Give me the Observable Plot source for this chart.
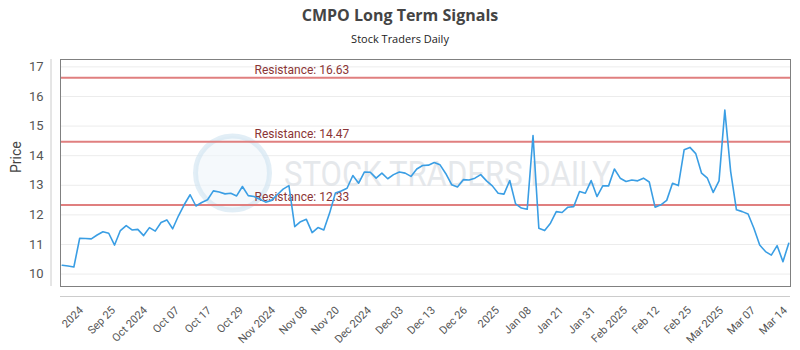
<!DOCTYPE html>
<html>
<head>
<meta charset="utf-8">
<script src="https://cdn.jsdelivr.net/npm/d3@7"></script>
<script src="https://cdn.jsdelivr.net/npm/@observablehq/plot@0.6"></script>
<style>
  html, body { margin: 0; padding: 0; background: #fff; }
  #wrap { width: 800px; height: 350px; overflow: hidden; }
  #title { height: 28px; line-height: 30px; text-align: center; font-family: "Open Sans", sans-serif; font-weight: 700; font-size: 16px; color: #444; }
  #subtitle { height: 22px; line-height: 22px; text-align: center; font-family: "Open Sans", sans-serif; font-size: 11px; color: #222; }
  svg { display: block; }
</style>
</head>
<body>
<div id="wrap">
  <div id="title">CMPO Long Term Signals</div>
  <div id="subtitle">Stock Traders Daily</div>
  <div id="chart"></div>
</div>
<script>
const prices = [
  10.30, 10.27, 10.24, 11.21, 11.20, 11.19, 11.32, 11.43, 11.38, 10.98,
  11.47, 11.64, 11.49, 11.51, 11.30, 11.57, 11.45, 11.74, 11.83, 11.53,
  11.97, 12.35, 12.68, 12.30, 12.42, 12.51, 12.81, 12.77, 12.71, 12.73,
  12.64, 12.96, 12.65, 12.62, 12.53, 12.43, 12.49, 12.68, 12.87, 12.99,
  11.60, 11.77, 11.85, 11.40, 11.57, 11.49, 12.06, 12.74, 12.81, 12.90,
  13.33, 13.07, 13.45, 13.44, 13.24, 13.41, 13.22, 13.36, 13.45, 13.41,
  13.30, 13.55, 13.67, 13.68, 13.77, 13.69, 13.39, 13.02, 12.94, 13.19,
  13.18, 13.24, 13.36, 13.15, 12.98, 12.73, 12.70, 13.16, 12.37, 12.23,
  12.19, 14.68, 11.55, 11.47, 11.72, 12.11, 12.08, 12.26, 12.28, 12.79,
  12.73, 13.16, 12.62, 12.98, 12.98, 13.55, 13.24, 13.13, 13.18, 13.15,
  13.24, 13.11, 12.26, 12.34, 12.49, 13.07, 12.99, 14.20, 14.28, 14.07,
  13.41, 13.24, 12.76, 13.15, 15.54, 13.47, 12.17, 12.11, 12.03, 11.55,
  10.98, 10.76, 10.64, 10.96, 10.42, 11.04
];
const xLabels = ["2024","Sep 25","Oct 2024","Oct 07","Oct 17","Oct 29","Nov 2024","Nov 08","Nov 20","Dec 2024","Dec 03","Dec 13","Dec 26","2025","Jan 08","Jan 21","Jan 31","Feb 2025","Feb 12","Feb 25","Mar 2025","Mar 07","Mar 14"];
const resistance = [16.63, 14.47, 12.33];
const yTicks = [10, 11, 12, 13, 14, 15, 16, 17];

const data = prices.map((v, i) => ({i, v}));
const xDomain = [-0.3, prices.length - 1 + 0.3];
const yDomain = [9.58, 17.25];

// category labels spread evenly along the index axis
const firstTick = 3.3, lastTick = prices.length - 1.6;
const step = (lastTick - firstTick) / (xLabels.length - 1);
const tickPos = xLabels.map((_, k) => firstTick + k * step);
const labelAt = new Map(tickPos.map((p, k) => [p, xLabels[k]]));

const chart = Plot.plot({
  width: 800,
  height: 300,
  marginLeft: 60,
  marginRight: 10,
  marginTop: 9,
  marginBottom: 64,
  style: {fontFamily: "Roboto, sans-serif", fontSize: "13px", color: "#555", background: "#fff"},
  x: {domain: xDomain, axis: null},
  y: {domain: yDomain, axis: null},
  marks: [
    Plot.gridY(yTicks, {stroke: "#ececec", strokeOpacity: 1}),
    // watermark
    Plot.dot([0], {frameAnchor: "middle", dx: -193, r: 37, stroke: "#cfe2f0", strokeWidth: 5, fill: "#eef5fa", fillOpacity: 0.6, strokeOpacity: 0.6}),
    Plot.text(["STOCK TRADERS DAILY"], {frameAnchor: "middle", dx: 22, dy: 2, text: d => d, fontSize: 35, fill: "#e1e4e8", fontFamily: "Roboto, sans-serif", fillOpacity: 0.85, className: "watermark"}),
    Plot.ruleY(resistance, {stroke: "#e07f7f", strokeWidth: 2}),
    Plot.text(resistance, {y: d => d, text: d => `Resistance: ${d}`, frameAnchor: "left", dx: 194, dy: -8, textAnchor: "start", fill: "#8b3535", fontSize: 12}),
    Plot.lineY(data, {x: "i", y: "v", stroke: "#3a9ee4", strokeWidth: 1.6}),
    Plot.frame({stroke: "#808080"}),
    Plot.ruleX([xDomain[0]], {dx: -9.5, stroke: "#cccccc"}),
    Plot.ruleY([yDomain[0]], {dy: 10, stroke: "#cccccc"}),
    Plot.axisY(yTicks, {tickSize: 0, tickPadding: 17, fontSize: 13, label: null}),
    Plot.text(["Price"], {frameAnchor: "left", dx: -44, rotate: -90, text: d => d, fontSize: 14, fill: "#444"}),
    Plot.axisX(tickPos, {tickSize: 0, tickPadding: 22, tickRotate: -45, fontSize: 11, tickFormat: d => labelAt.get(d), label: null})
  ]
});
// condense the watermark lettering to the reference's width
chart.querySelectorAll(".watermark text").forEach(t => {
  t.setAttribute("textLength", 327);
  t.setAttribute("lengthAdjust", "spacingAndGlyphs");
});
document.getElementById("chart").appendChild(chart);
</script>
</body>
</html>
